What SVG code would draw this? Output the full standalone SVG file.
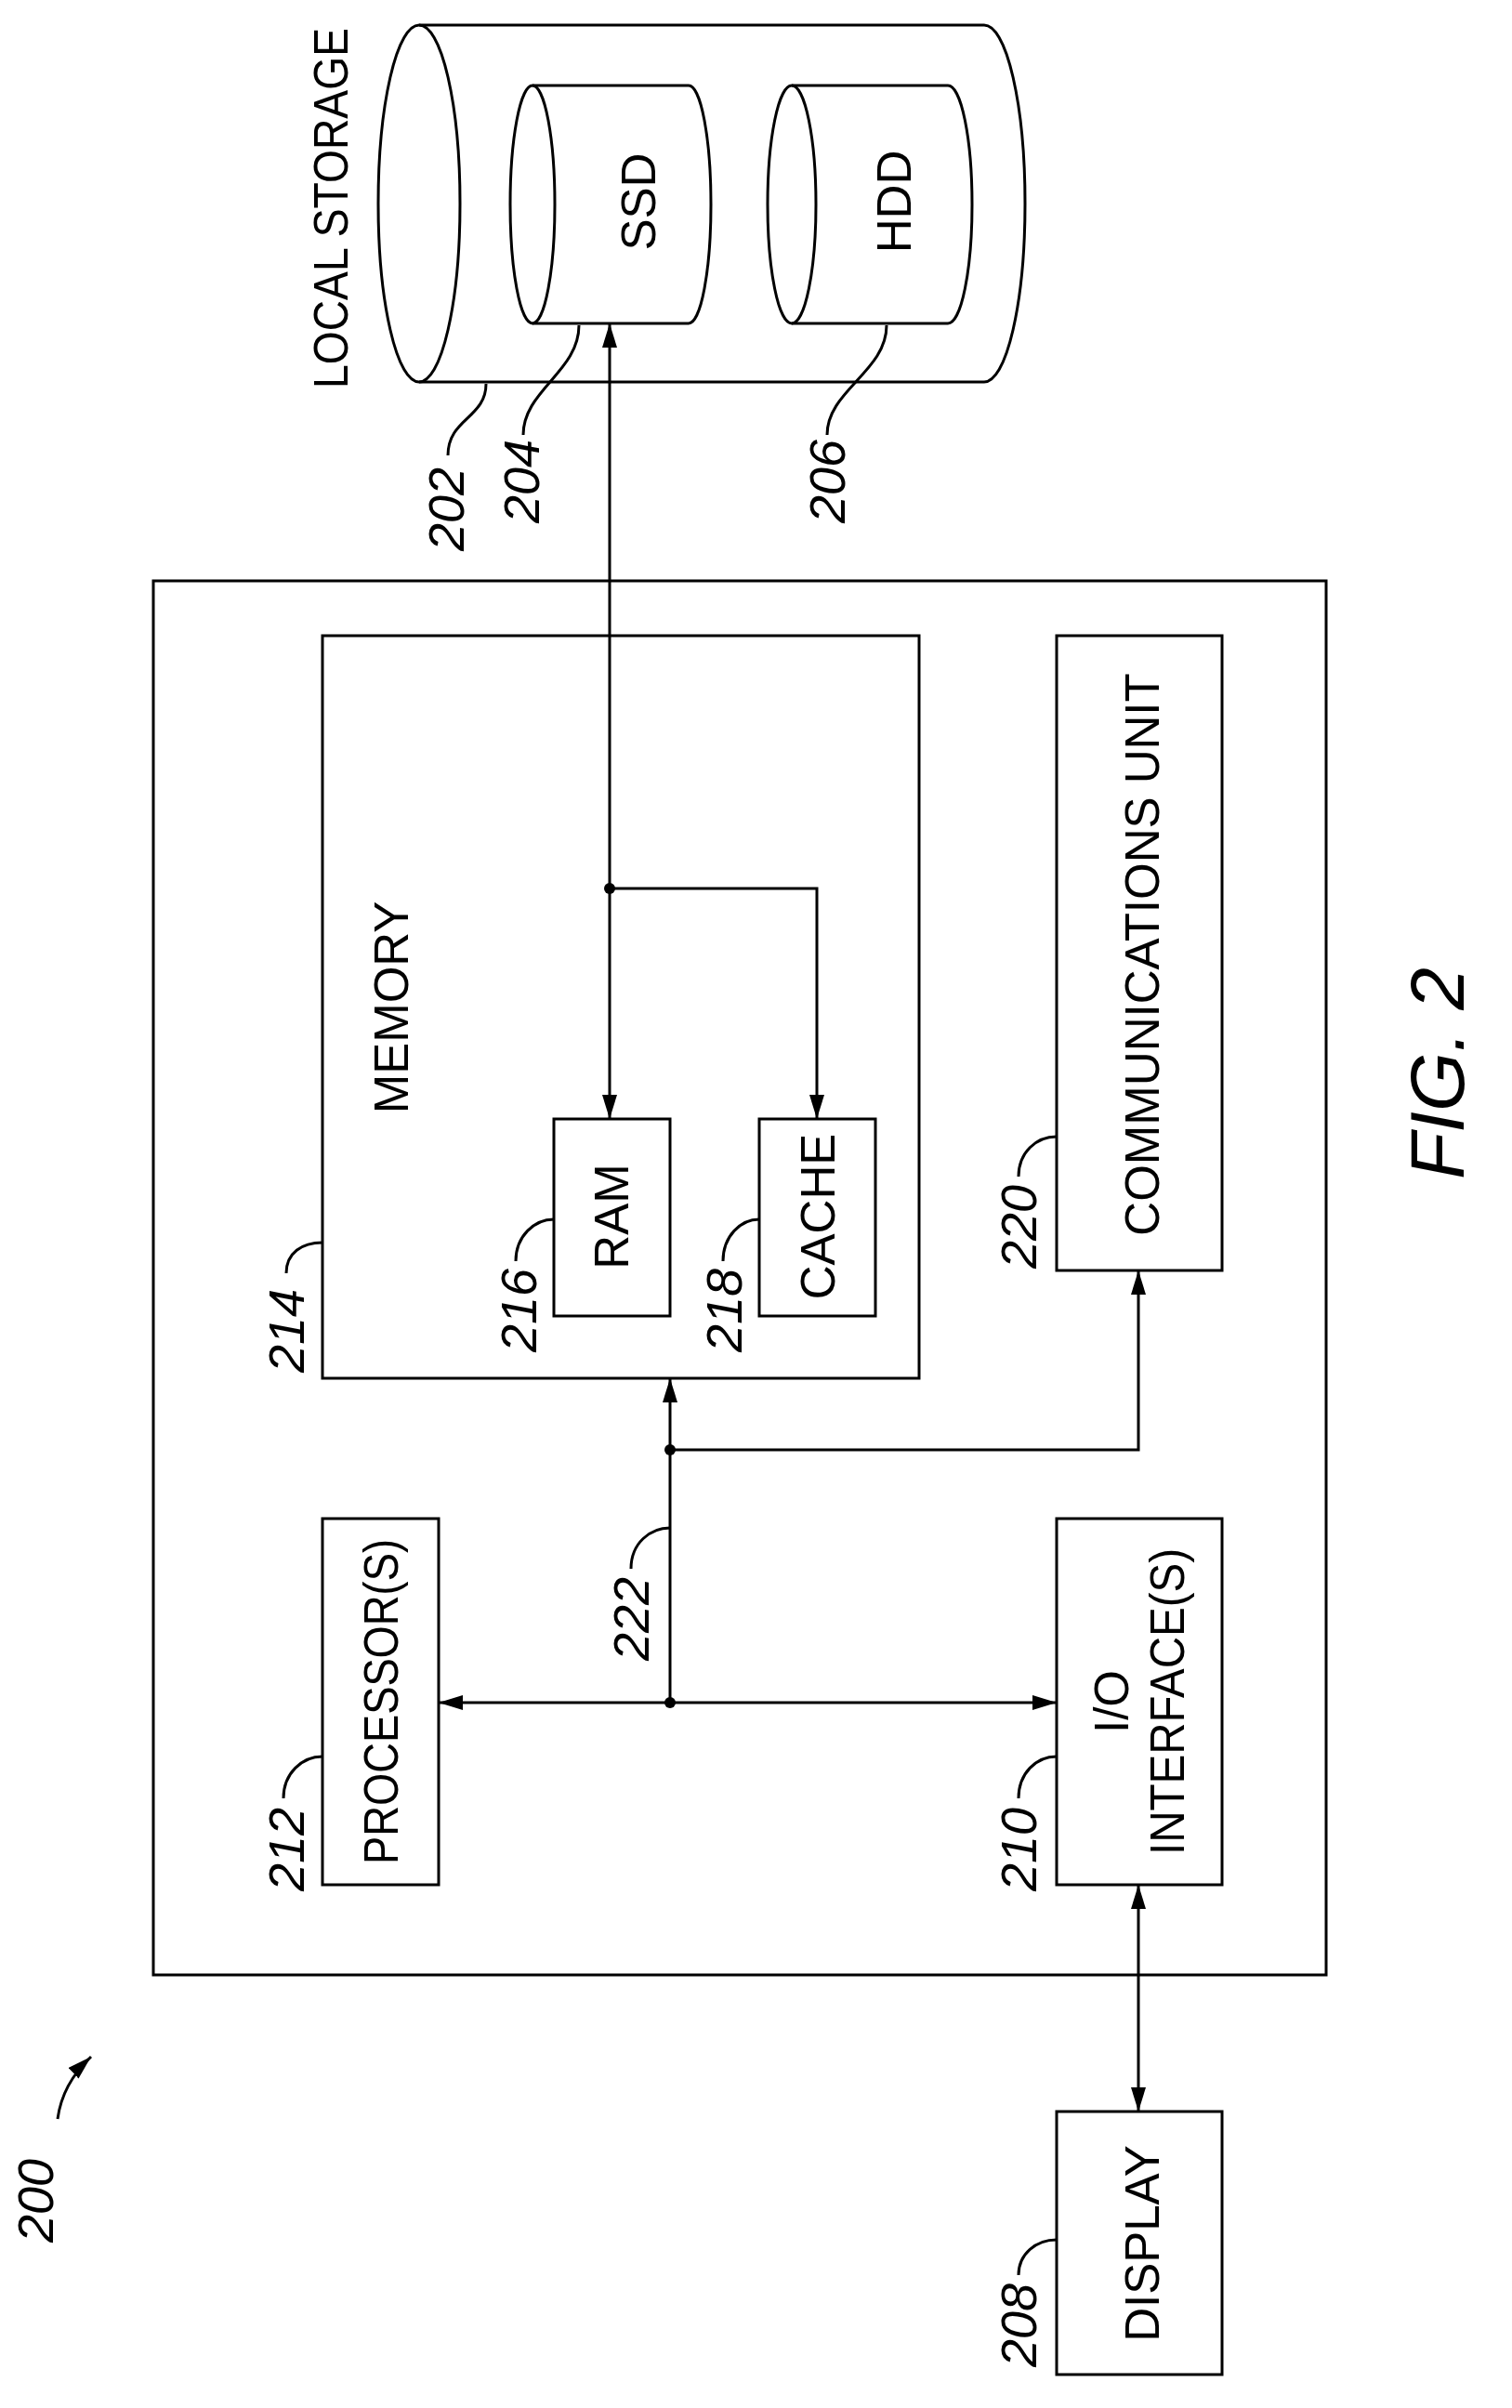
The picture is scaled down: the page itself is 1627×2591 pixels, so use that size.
<svg xmlns="http://www.w3.org/2000/svg" width="1627" height="2591" viewBox="0 0 1627 2591">
<style>
.s{fill:none;stroke:#000;stroke-width:3}
.b{fill:#fff;stroke:#000;stroke-width:3}
.t{font-family:"Liberation Sans",Arial,sans-serif;font-size:51px;text-anchor:middle;dominant-baseline:central}
.n{font-family:"Liberation Sans",Arial,sans-serif;font-size:54px;font-style:italic;text-anchor:middle;dominant-baseline:central}
</style>
<defs>
<marker id="ah" viewBox="0 0 26 16" refX="26" refY="8" markerWidth="26" markerHeight="16" markerUnits="userSpaceOnUse" orient="auto-start-reverse">
<path d="M0,0 L26,8 L0,16 Z" fill="#000"/>
</marker>
<marker id="ah2" viewBox="0 0 26 16" refX="26" refY="8" markerWidth="26" markerHeight="16" markerUnits="userSpaceOnUse" orient="auto-start-reverse">
<path d="M0,0 L26,8 L0,16 Z" fill="#000"/>
</marker>
</defs>
<rect width="1627" height="2591" fill="#fff"/>
<g id="n200">
<text class="n" transform="translate(38,2368) rotate(-90)">200</text>
<path class="s" d="M62,2280 C66,2250 82,2228 98,2213" marker-end="url(#ah2)"/>
</g>
<g id="n202">
<path class="b" d="M451,27 H1059 A44,192 0 0 1 1059,411 H451"/>
<ellipse class="s" cx="451" cy="219" rx="44" ry="192"/>
<text class="t" transform="translate(356,224) rotate(-90)" textLength="388" lengthAdjust="spacingAndGlyphs">LOCAL STORAGE</text>
<text class="n" transform="translate(480,548) rotate(-90)">202</text>
<path class="s" d="M482,490 C482,450 523,450 523,413"/>
</g>
<g id="n204">
<path class="b" d="M573,92 H741 A24,128 0 0 1 741,348 H573"/>
<ellipse class="s" cx="573" cy="220" rx="24" ry="128"/>
<text class="t" transform="translate(687,217) rotate(-90)">SSD</text>
<text class="n" transform="translate(561,518) rotate(-90)">204</text>
<path class="s" d="M563,468 C563,420 623,400 623,350"/>
</g>
<g id="n206">
<path class="b" d="M852,92 H1020 A26,128 0 0 1 1020,348 H852"/>
<ellipse class="s" cx="852" cy="220" rx="26" ry="128"/>
<text class="t" transform="translate(962,217) rotate(-90)">HDD</text>
<text class="n" transform="translate(890,518) rotate(-90)">206</text>
<path class="s" d="M890,468 C890,420 954,400 954,350"/>
</g>
<g id="outer"><rect class="s" x="165" y="625" width="1262" height="1500"/></g>
<g id="n214">
<rect class="s" x="347" y="684" width="642" height="799"/>
<text class="t" transform="translate(421,1084) rotate(-90)">MEMORY</text>
<text class="n" transform="translate(308,1432) rotate(-90)">214</text>
<path class="s" d="M308,1370 C308,1348 325,1337 347,1337"/>
</g>
<g id="n216">
<rect class="s" x="596" y="1204" width="125" height="212"/>
<text class="t" transform="translate(658,1309) rotate(-90)">RAM</text>
<text class="n" transform="translate(558,1410) rotate(-90)">216</text>
<path class="s" d="M555,1357 C555,1330 575,1312 596,1312"/>
</g>
<g id="n218">
<rect class="s" x="817" y="1204" width="125" height="212"/>
<text class="t" transform="translate(880,1309) rotate(-90)">CACHE</text>
<text class="n" transform="translate(779,1410) rotate(-90)">218</text>
<path class="s" d="M778,1357 C778,1330 797,1312 817,1312"/>
</g>
<g id="n220">
<rect class="s" x="1137" y="684" width="178" height="683"/>
<text class="t" transform="translate(1229,1027) rotate(-90)">COMMUNICATIONS UNIT</text>
<text class="n" transform="translate(1096,1320) rotate(-90)">220</text>
<path class="s" d="M1096,1266 C1096,1240 1115,1223 1137,1223"/>
</g>
<g id="n212">
<rect class="s" x="347" y="1634" width="125" height="394"/>
<text class="t" transform="translate(410,1831) rotate(-90)" textLength="350" lengthAdjust="spacingAndGlyphs">PROCESSOR(S)</text>
<text class="n" transform="translate(308,1990) rotate(-90)">212</text>
<path class="s" d="M305,1935 C305,1908 325,1890 347,1890"/>
</g>
<g id="n210">
<rect class="s" x="1137" y="1634" width="178" height="394"/>
<text class="t" transform="translate(1196,1831) rotate(-90)">I/O</text>
<text class="t" transform="translate(1256,1831) rotate(-90)" textLength="330" lengthAdjust="spacingAndGlyphs">INTERFACE(S)</text>
<text class="n" transform="translate(1096,1990) rotate(-90)">210</text>
<path class="s" d="M1096,1935 C1096,1908 1115,1890 1137,1890"/>
</g>
<g id="n208">
<rect class="s" x="1137" y="2272" width="178" height="283"/>
<text class="t" transform="translate(1229,2414) rotate(-90)">DISPLAY</text>
<text class="n" transform="translate(1096,2502) rotate(-90)">208</text>
<path class="s" d="M1096,2448 C1096,2425 1115,2410 1137,2410"/>
</g>
<g id="connectors">
<path class="s" d="M656,348 V1204" marker-start="url(#ah)" marker-end="url(#ah)"/>
<path class="s" d="M656,956 H879 V1204" marker-end="url(#ah)"/>
<circle cx="656" cy="956" r="6"/>
<path class="s" d="M721,1832 V1483" marker-end="url(#ah)"/>
<path class="s" d="M721,1560 H1225 V1367" marker-end="url(#ah)"/>
<circle cx="721" cy="1560" r="6"/>
<path class="s" d="M472,1832 H1137" marker-start="url(#ah)" marker-end="url(#ah)"/>
<circle cx="721" cy="1832" r="6"/>
<path class="s" d="M1225,2028 V2272" marker-start="url(#ah)" marker-end="url(#ah)"/>
<text class="n" transform="translate(679,1742) rotate(-90)">222</text>
<path class="s" d="M679,1688 C679,1660 700,1644 721,1644"/>
</g>
<g id="fig"><text class="n" style="font-size:82px" transform="translate(1546,1155) rotate(-90)">FIG. 2</text></g>
</svg>
